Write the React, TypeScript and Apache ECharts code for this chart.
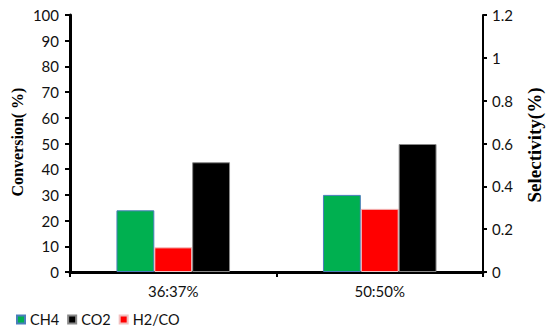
import React, { useEffect, useRef } from "react";
import * as echarts from "echarts";

const categories = ["36:37%", "50:50%"];
const ch4Values = [24, 30];
const h2coValues = [0.115, 0.295];
const co2Values = [42.7, 49.8];
const leftTicks = [0, 100, 10];
const rightTicks = [0, 1.2, 0.2];

export default function App() {
  const ref = useRef<HTMLDivElement>(null);
  useEffect(() => {
    document.body.style.margin = "0";
    const chart = echarts.init(ref.current!, null, { renderer: "svg" });
    const font = "Lato, 'Open Sans', sans-serif";
    const axisLine = { show: true, lineStyle: { color: "#000", width: 3 } };
    chart.setOption({
      animation: false,
      backgroundColor: "#fff",
      grid: { left: 70, right: 67, top: 15, bottom: 60 },
      legend: {
        data: ["CH4", "CO2", "H2/CO"],
        left: 11,
        top: 307,
        itemWidth: 8,
        itemHeight: 8,
        itemGap: 8,
        icon: "rect",
        textStyle: { fontFamily: font, fontSize: 14.5, color: "#111" },
      },
      xAxis: {
        type: "category",
        data: categories,
        axisLine,
        axisTick: { show: true, alignWithLabel: false, length: 5, lineStyle: { width: 2, color: "#000" } },
        axisLabel: { fontFamily: font, fontSize: 15, color: "#111", margin: 11 },
      },
      yAxis: [
        {
          type: "value",
          min: leftTicks[0],
          max: leftTicks[1],
          interval: leftTicks[2],
          position: "left",
          axisLine,
          axisTick: { show: true, length: 5, lineStyle: { width: 2, color: "#000" } },
          axisLabel: { fontFamily: font, fontSize: 15, color: "#111", margin: 11 },
          splitLine: { show: false },
        },
        {
          type: "value",
          min: rightTicks[0],
          max: rightTicks[1],
          interval: rightTicks[2],
          position: "right",
          axisLine: { show: true, lineStyle: { color: "#000", width: 2 } },
          axisTick: { show: true, length: 4, lineStyle: { width: 2, color: "#000" } },
          axisLabel: {
            fontFamily: font,
            fontSize: 15,
            color: "#111",
            margin: 9,
            formatter: (v: number) => String(Math.round(v * 10) / 10),
          },
          splitLine: { show: false },
        },
      ],
      graphic: [
        {
          type: "text",
          x: 17,
          y: 142,
          rotation: Math.PI / 2,
          style: {
            text: "Conversion( %)",
            font: "bold 16px 'Liberation Serif', serif",
            fill: "#000",
            align: "center",
            verticalAlign: "middle",
          },
        },
        {
          type: "text",
          x: 534,
          y: 145,
          rotation: Math.PI / 2,
          style: {
            text: "Selectivity(%)",
            font: "bold 19px 'Liberation Serif', serif",
            fill: "#000",
            align: "center",
            verticalAlign: "middle",
          },
        },
      ],
      series: [
        {
          name: "CH4",
          type: "bar",
          data: ch4Values,
          yAxisIndex: 0,
          barGap: "0%",
          barCategoryGap: "45%",
          itemStyle: { color: "#00B050", borderColor: "#4A7EBB", borderWidth: 1 },
        },
        {
          name: "H2/CO",
          type: "bar",
          data: h2coValues,
          yAxisIndex: 1,
          itemStyle: { color: "#FF0000", borderColor: "#f2c0c0", borderWidth: 1 },
        },
        {
          name: "CO2",
          type: "bar",
          data: co2Values,
          yAxisIndex: 0,
          itemStyle: { color: "#000000", borderColor: "#888", borderWidth: 1 },
        },
      ],
    });
    return () => chart.dispose();
  }, []);
  return <div ref={ref} style={{ width: 550, height: 332, position: "absolute", left: 0, top: 0 }} />;
}
